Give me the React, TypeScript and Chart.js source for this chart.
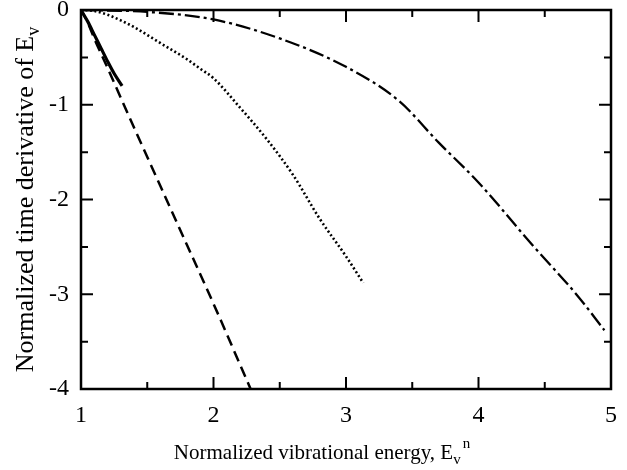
import React, { useEffect, useRef } from "react";
import { Chart, registerables } from "chart.js";

Chart.register(...registerables);

const xRange = [1, 5];
const yRange = [-4, 0];

const solidX = [1, 1.05, 1.1, 1.15, 1.2, 1.25, 1.31];
const solidY = [0, -0.12, -0.26, -0.4, -0.54, -0.67, -0.8];

const dashedX = [1, 1.05, 1.1, 1.2, 1.4, 1.6, 1.8, 2.0, 2.28];
const dashedY = [0, -0.13, -0.3, -0.61, -1.24, -1.86, -2.48, -3.1, -4.0];

const dottedX = [1, 1.1, 1.2, 1.3, 1.4, 1.6, 1.8, 1.9, 2.0, 2.2, 2.4, 2.6, 2.8, 3.0, 3.13];
const dottedY = [0, -0.01, -0.05, -0.11, -0.18, -0.35, -0.52, -0.62, -0.72, -1.03, -1.36, -1.74, -2.2, -2.6, -2.88];

const dashDotX = [1, 1.5, 2, 2.5, 3, 3.4, 3.7, 4, 4.4, 4.75, 4.95];
const dashDotY = [0, -0.02, -0.1, -0.3, -0.6, -0.96, -1.4, -1.82, -2.47, -3.02, -3.38];

const xTitle = "Normalized vibrational energy, E";
const yTitle = "Normalized time derivative of E";

const SERIF = "'Liberation Serif', 'Times New Roman', serif";

function toPoints(xs: number[], ys: number[]) {
  return xs.map((x, i) => ({ x, y: ys[i] }));
}

const framePlugin = {
  id: "frameTicks",
  afterDraw(chart: any) {
    const ctx = chart.ctx;
    const { left, right, top, bottom } = chart.chartArea;
    const xs = chart.scales.x;
    const ys = chart.scales.y;
    ctx.save();
    ctx.strokeStyle = "#000";
    ctx.lineWidth = 2.5;
    ctx.strokeRect(left, top, right - left, bottom - top);
    ctx.lineWidth = 2;
    for (let v = xRange[0]; v <= xRange[1] + 1e-9; v += 0.5) {
      const p = xs.getPixelForValue(v);
      const len = Math.abs(v - Math.round(v)) < 1e-6 ? 12 : 7;
      ctx.beginPath();
      ctx.moveTo(p, bottom);
      ctx.lineTo(p, bottom - len);
      ctx.moveTo(p, top);
      ctx.lineTo(p, top + len);
      ctx.stroke();
    }
    for (let v = yRange[0]; v <= yRange[1] + 1e-9; v += 0.5) {
      const p = ys.getPixelForValue(v);
      const len = Math.abs(v - Math.round(v)) < 1e-6 ? 12 : 7;
      ctx.beginPath();
      ctx.moveTo(left, p);
      ctx.lineTo(left + len, p);
      ctx.moveTo(right, p);
      ctx.lineTo(right - len, p);
      ctx.stroke();
    }
    // titles
    ctx.fillStyle = "#000";
    ctx.textBaseline = "alphabetic";
    ctx.textAlign = "left";
    // x title
    const fs = 21;
    const sub = 15;
    ctx.font = `${fs}px ${SERIF}`;
    const w1 = ctx.measureText(xTitle).width;
    ctx.font = `${sub}px ${SERIF}`;
    const wv = ctx.measureText("v").width;
    const wn = ctx.measureText("n").width;
    const total = w1 + wv + 2 + wn;
    const cx = (left + right) / 2 - 24;
    const x0 = cx - total / 2;
    const by = 459;
    ctx.font = `${fs}px ${SERIF}`;
    ctx.fillText(xTitle, x0, by);
    ctx.font = `${sub}px ${SERIF}`;
    ctx.fillText("v", x0 + w1, by + 5);
    ctx.fillText("n", x0 + w1 + wv + 2, by - 11);
    // y title
    const yfs = 26;
    const ysub = 18;
    ctx.save();
    ctx.translate(33, (top + bottom) / 2);
    ctx.rotate(-Math.PI / 2);
    ctx.font = `${yfs}px ${SERIF}`;
    const wy = ctx.measureText(yTitle).width;
    ctx.font = `${ysub}px ${SERIF}`;
    const wyv = ctx.measureText("v").width;
    const ty = wy + wyv;
    const y0 = -ty / 2;
    ctx.font = `${yfs}px ${SERIF}`;
    ctx.fillText(yTitle, y0, 0);
    ctx.font = `${ysub}px ${SERIF}`;
    ctx.fillText("v", y0 + wy, 6);
    ctx.restore();
    ctx.restore();
  },
};

export default function App() {
  const ref = useRef<HTMLCanvasElement>(null);
  useEffect(() => {
    document.body.style.margin = "0";
    const canvas = ref.current!;
    const common = {
      borderColor: "#000",
      pointRadius: 0,
      fill: false,
      cubicInterpolationMode: "monotone" as const,
    };
    const chart = new Chart(canvas, {
      type: "line",
      data: {
        datasets: [
          { ...common, data: toPoints(solidX, solidY), borderWidth: 3.2 },
          { ...common, data: toPoints(dashedX, dashedY), borderWidth: 2.5, borderDash: [11, 6] },
          { ...common, data: toPoints(dottedX, dottedY), borderWidth: 2.6, borderDash: [2, 2.5] },
          { ...common, data: toPoints(dashDotX, dashDotY), borderWidth: 2.3, borderDash: [15, 4, 3, 4] },
        ],
      },
      options: {
        responsive: false,
        animation: false,
        layout: { padding: { top: 10, right: 16, left: 0, bottom: 0 } },
        plugins: {
          legend: { display: false },
          tooltip: { enabled: false },
        },
        scales: {
          x: {
            type: "linear",
            min: xRange[0],
            max: xRange[1],
            grid: { display: false, drawTicks: false },
            border: { display: false },
            ticks: {
              stepSize: 1,
              color: "#000",
              padding: 12,
              font: { family: SERIF, size: 24 },
              maxRotation: 0,
            },
            afterFit: (s: any) => {
              s.height = 81;
              s.paddingLeft = 0;
              s.paddingRight = 0;
            },
          },
          y: {
            type: "linear",
            min: yRange[0],
            max: yRange[1],
            grid: { display: false, drawTicks: false },
            border: { display: false },
            ticks: {
              stepSize: 1,
              color: "#000",
              padding: 12,
              font: { family: SERIF, size: 24 },
            },
            afterFit: (s: any) => {
              s.width = 81;
              s.paddingTop = 0;
              s.paddingBottom = 0;
            },
          },
        },
      },
      plugins: [framePlugin],
    });
    return () => chart.destroy();
  }, []);
  return <canvas ref={ref} width={627} height={470} style={{ display: "block" }} />;
}
